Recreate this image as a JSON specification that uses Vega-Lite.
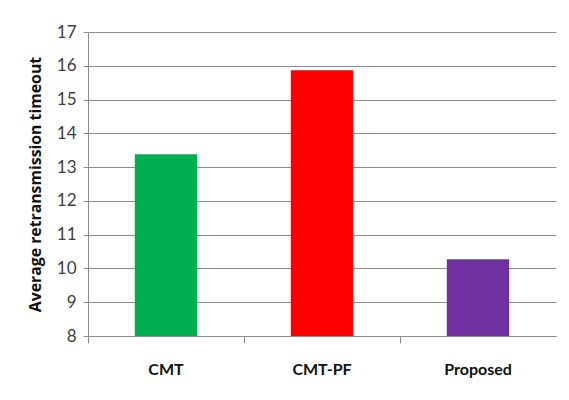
{
  "$schema": "https://vega.github.io/schema/vega-lite/v6.json",
  "width": 468,
  "height": 304,
  "padding": {"left": 27, "top": 23, "right": 12, "bottom": 5},
  "background": "white",
  "config": {
    "view": {"stroke": null},
    "axis": {"domainColor": "#8c8c8c", "tickColor": "#8c8c8c", "gridColor": "#8c8c8c"}
  },
  "data": {
    "values": [
      {"scheme": "CMT", "timeout": 13.38},
      {"scheme": "CMT-PF", "timeout": 15.87},
      {"scheme": "Proposed", "timeout": 10.27}
    ]
  },
  "mark": {"type": "bar", "clip": true},
  "encoding": {
    "x": {
      "field": "scheme",
      "type": "nominal",
      "sort": null,
      "scale": {"paddingInner": 0.6, "paddingOuter": 0.3},
      "axis": {
        "title": null,
        "labelAngle": 0,
        "bandPosition": -0.75,
        "tickSize": 7,
        "labelPadding": 18,
        "labelFont": "Lato",
        "labelFontWeight": "bold",
        "labelFontSize": 16,
        "labelColor": "#111111"
      }
    },
    "y": {
      "field": "timeout",
      "type": "quantitative",
      "scale": {"domain": [8, 17], "zero": false},
      "axis": {
        "title": "Average retransmission timeout",
        "titleFont": "Open Sans",
        "titleFontWeight": "bold",
        "titleFontSize": 15.8,
        "titleColor": "#111111",
        "titlePadding": 13,
        "values": [8, 9, 10, 11, 12, 13, 14, 15, 16, 17],
        "tickSize": 5,
        "labelPadding": 7,
        "labelFont": "Lato",
        "labelFontSize": 17,
        "labelColor": "#404040",
        "grid": true
      }
    },
    "color": {
      "field": "scheme",
      "type": "nominal",
      "scale": {"domain": ["CMT", "CMT-PF", "Proposed"], "range": ["#00B050", "#FF0000", "#7030A0"]},
      "legend": null
    }
  }
}
